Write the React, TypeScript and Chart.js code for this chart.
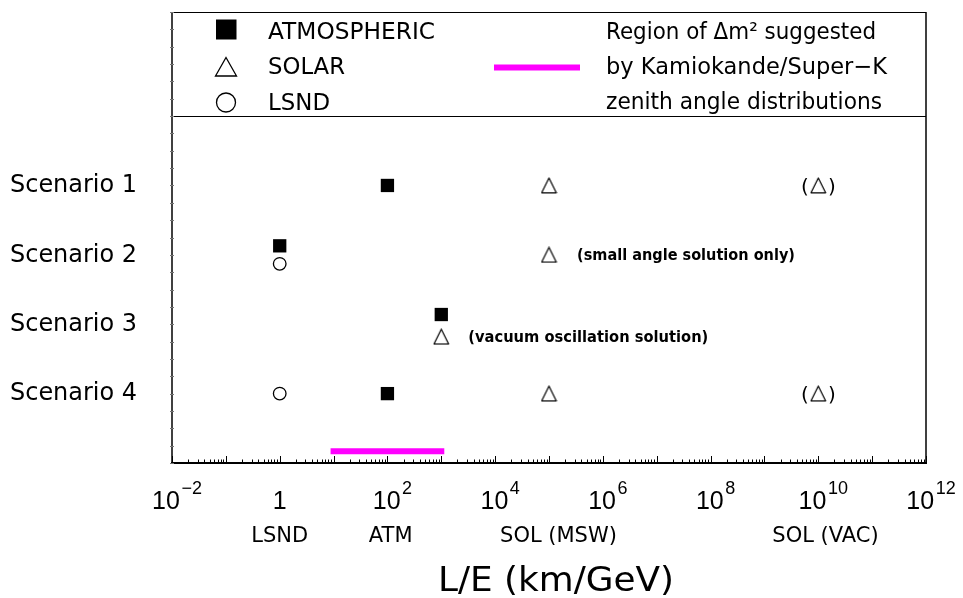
import React, { useEffect, useRef } from "react";
import { Chart, registerables } from "chart.js";

Chart.register(...registerables);

// ---------------- data ----------------
const scenarioLabels = ["Scenario 1", "Scenario 2", "Scenario 3", "Scenario 4"];
const scenarioRows = [4, 3, 2, 1];

const atmPoints = [
  { x: 100, y: 4 },
  { x: 1, y: 3.13 },
  { x: 1000, y: 2.14 },
  { x: 100, y: 1 },
];
const solarPoints = [
  { x: 1e5, y: 4 },
  { x: 1e5, y: 3 },
  { x: 1000, y: 1.82 },
  { x: 1e5, y: 1 },
];
const solarVacuumOptional = [
  { x: 1e10, y: 4 },
  { x: 1e10, y: 1 },
];
const lsndPoints = [
  { x: 1, y: 2.87 },
  { x: 1, y: 1 },
];
const kamiokandeRange = [
  { x: 10, y: 0.17 },
  { x: 1000, y: 0.17 },
];

const decadeExponents = [-2, 0, 2, 4, 6, 8, 10, 12];
const axisNotes = ["LSND", "ATM", "SOL (MSW)", "SOL (VAC)"];
const axisNoteValues = [1, 115, 1.5e5, 1.36e10];

const annotationTexts = ["(small angle solution only)", "(vacuum oscillation solution)"];
const annotationAnchors = [
  { x: 1e5, y: 3 },
  { x: 1000, y: 1.82 },
];

const legendLabels = ["ATMOSPHERIC", "SOLAR", "LSND"];
const regionNote = ["Region of Δm² suggested", "by Kamiokande/Super−K", "zenith angle distributions"];

const xMin = 1e-2;
const xMax = 1e12;
const yMin = 0;
const yMax = 6.5;
const legendDivider = 5;
const axisTitle = "L/E (km/GeV)";

// ---------------- helpers ----------------
const DV = "'DejaVu Sans', sans-serif";
const LS = "'Liberation Sans', Arial, sans-serif";

function textW(
  ctx: CanvasRenderingContext2D,
  text: string,
  x: number,
  y: number,
  font: string,
  width: number,
  align: "left" | "center" = "left"
) {
  ctx.save();
  ctx.font = font;
  ctx.textAlign = "left";
  ctx.textBaseline = "alphabetic";
  const w = ctx.measureText(text).width;
  const s = width / w;
  const x0 = align === "center" ? x - width / 2 : x;
  ctx.translate(x0, y);
  ctx.scale(s, 1);
  ctx.fillText(text, 0, 0);
  ctx.restore();
}

function line(ctx: CanvasRenderingContext2D, x1: number, y1: number, x2: number, y2: number, lw: number, color = "#000") {
  ctx.save();
  ctx.strokeStyle = color;
  ctx.lineWidth = lw;
  ctx.beginPath();
  ctx.moveTo(x1, y1);
  ctx.lineTo(x2, y2);
  ctx.stroke();
  ctx.restore();
}

function makeTriangle(): HTMLCanvasElement {
  const size = 17;
  const c = document.createElement("canvas");
  c.width = size;
  c.height = size;
  const g = c.getContext("2d")!;
  g.strokeStyle = "#000";
  g.lineWidth = 1.2;
  g.lineJoin = "round";
  g.beginPath();
  g.moveTo(size / 2, 1);
  g.lineTo(size - 1.2, size - 1.2);
  g.lineTo(1.2, size - 1.2);
  g.closePath();
  g.stroke();
  return c;
}

const pawPlugin = {
  id: "pawDecor",
  beforeDatasetsDraw(chart: any) {
    const ctx: CanvasRenderingContext2D = chart.ctx;
    const a = chart.chartArea;
    const xs = chart.scales.x;
    const ys = chart.scales.y;
    // frame
    line(ctx, a.left, a.top + 0.5, a.right, a.top + 0.5, 1.2);
    line(ctx, a.right, a.top, a.right, a.bottom, 1.5);
    line(ctx, a.left, a.top, a.left, a.bottom, 1.5);
    const yd = Math.round(ys.getPixelForValue(legendDivider)) + 0.5;
    line(ctx, a.left, yd, a.right, yd, 1.2);
    line(ctx, a.left - 1, a.bottom, a.right + 1, a.bottom, 2);
    // x ticks
    const eMin = Math.round(Math.log10(xMin));
    const eMax = Math.round(Math.log10(xMax));
    for (let e = eMin; e <= eMax; e++) {
      for (let m = 1; m <= 9; m++) {
        if (e === eMax && m > 1) break;
        const v = m * Math.pow(10, e);
        const px = Math.round(xs.getPixelForValue(v)) + 0.5;
        const len = m === 1 ? 7 : 3.5;
        line(ctx, px, a.bottom, px, a.bottom - len, 1);
      }
    }
    // y ticks
    for (let v = yMin; v <= yMax + 1e-9; v += 0.25) {
      const py = Math.round(ys.getPixelForValue(v)) + 0.5;
      line(ctx, a.left - 2, py, a.left + 2, py, 1, "#777");
    }
  },
  afterDatasetsDraw(chart: any) {
    const ctx: CanvasRenderingContext2D = chart.ctx;
    const a = chart.chartArea;
    const xs = chart.scales.x;
    const ys = chart.scales.y;
    ctx.save();
    ctx.fillStyle = "#000";

    // tick labels
    for (const e of decadeExponents) {
      const px = xs.getPixelForValue(Math.pow(10, e));
      if (e === 0) {
        ctx.font = `25px ${LS}`;
        ctx.textAlign = "center";
        ctx.textBaseline = "alphabetic";
        ctx.fillText("1", px, 509);
        continue;
      }
      const sup = e < 0 ? "−" + Math.abs(e) : String(e);
      ctx.textAlign = "left";
      ctx.textBaseline = "alphabetic";
      ctx.font = `25px ${LS}`;
      const wb = ctx.measureText("10").width;
      ctx.font = `18px ${LS}`;
      const ws = ctx.measureText(sup).width;
      const gap = 1.5;
      const total = wb + gap + ws;
      const left = px + 5 - total / 2;
      ctx.font = `25px ${LS}`;
      ctx.fillText("10", left, 509);
      ctx.font = `18px ${LS}`;
      ctx.fillText(sup, left + wb + gap, 494);
    }

    // axis notes
    ctx.font = `21px ${DV}`;
    ctx.textAlign = "center";
    axisNotes.forEach((t, i) => {
      ctx.fillText(t, xs.getPixelForValue(axisNoteValues[i]), 542);
    });

    // title
    textW(ctx, axisTitle, (a.left + a.right) / 2 + 7, 591, `34px ${DV}`, 236, "center");

    // scenario labels
    scenarioLabels.forEach((t, i) => {
      textW(ctx, t, 10, ys.getPixelForValue(scenarioRows[i]) + 6.75, `24px ${DV}`, 127);
    });

    // annotations
    const annWidths = [218, 240];
    const annOffsets = [28, 27];
    annotationTexts.forEach((t, i) => {
      const px = xs.getPixelForValue(annotationAnchors[i].x) + annOffsets[i];
      const py = ys.getPixelForValue(annotationAnchors[i].y) + 5.5;
      textW(ctx, t, px, py, `bold 15px ${DV}`, annWidths[i]);
    });

    // parentheses around optional vacuum solution
    ctx.font = `20px ${DV}`;
    ctx.textAlign = "center";
    solarVacuumOptional.forEach((p) => {
      const px = xs.getPixelForValue(p.x);
      const py = ys.getPixelForValue(p.y) + 7.5;
      ctx.fillText("(", px - 13.5, py);
      ctx.fillText(")", px + 13.5, py);
    });

    // legend
    const lx = a.left + 54;
    // square
    ctx.fillRect(lx - 10, 19.5, 20.5, 20);
    // triangle
    ctx.save();
    ctx.strokeStyle = "#000";
    ctx.lineWidth = 1.3;
    ctx.beginPath();
    ctx.moveTo(lx, 57.5);
    ctx.lineTo(lx + 10.5, 76);
    ctx.lineTo(lx - 10.5, 76);
    ctx.closePath();
    ctx.stroke();
    // circle
    ctx.beginPath();
    ctx.arc(lx, 102.5, 9.5, 0, Math.PI * 2);
    ctx.stroke();
    ctx.restore();

    const legendWidths = [167, 77, 62];
    const legendBase = [39, 74, 110];
    legendLabels.forEach((t, i) => {
      textW(ctx, t, a.left + 96, legendBase[i], `23px ${DV}`, legendWidths[i]);
    });

    // magenta legend line
    ctx.save();
    ctx.strokeStyle = "#ff00ff";
    ctx.lineWidth = 6;
    ctx.beginPath();
    ctx.moveTo(494, 67.5);
    ctx.lineTo(580, 67.5);
    ctx.stroke();
    ctx.restore();

    const regionWidths = [270, 281, 276];
    const regionBase = [39, 74, 109];
    regionNote.forEach((t, i) => {
      textW(ctx, t, 606, regionBase[i], `23px ${DV}`, regionWidths[i]);
    });

    ctx.restore();
  },
};

export default function App() {
  const ref = useRef<HTMLCanvasElement | null>(null);
  useEffect(() => {
    if (!ref.current) return;
    const tri = makeTriangle();
    const chart = new Chart(ref.current, {
      type: "scatter",
      data: {
        datasets: [
          {
            type: "line",
            label: "Kamiokande/Super-K region",
            data: kamiokandeRange,
            borderColor: "#ff00ff",
            borderWidth: 6,
            borderCapStyle: "square",
            pointRadius: 0,
            showLine: true,
            fill: false,
          } as any,
          {
            label: "ATMOSPHERIC",
            data: atmPoints,
            pointStyle: "rect",
            pointRadius: 9.4,
            backgroundColor: "#000",
            borderColor: "#000",
            borderWidth: 0,
          },
          {
            label: "SOLAR",
            data: solarPoints,
            pointStyle: tri as any,
            pointRadius: 8,
          },
          {
            label: "SOLAR (vacuum, optional)",
            data: solarVacuumOptional,
            pointStyle: tri as any,
            pointRadius: 8,
          },
          {
            label: "LSND",
            data: lsndPoints,
            pointStyle: "circle",
            pointRadius: 6.3,
            backgroundColor: "#fff",
            borderColor: "#000",
            borderWidth: 1.3,
          },
        ],
      },
      options: {
        responsive: false,
        animation: false,
        devicePixelRatio: 1,
        events: [],
        layout: { padding: { left: 172, right: 37, top: 12, bottom: 135 } },
        plugins: { legend: { display: false }, tooltip: { enabled: false } },
        scales: {
          x: { type: "logarithmic", min: xMin, max: xMax, display: false },
          y: { type: "linear", min: yMin, max: yMax, display: false },
        },
      },
      plugins: [pawPlugin as any],
    });
    return () => chart.destroy();
  }, []);
  return (
    <div style={{ position: "fixed", left: 0, top: 0, width: 963, height: 598, background: "#fff" }}>
      <canvas ref={ref} width={963} height={598} style={{ display: "block" }} />
    </div>
  );
}
